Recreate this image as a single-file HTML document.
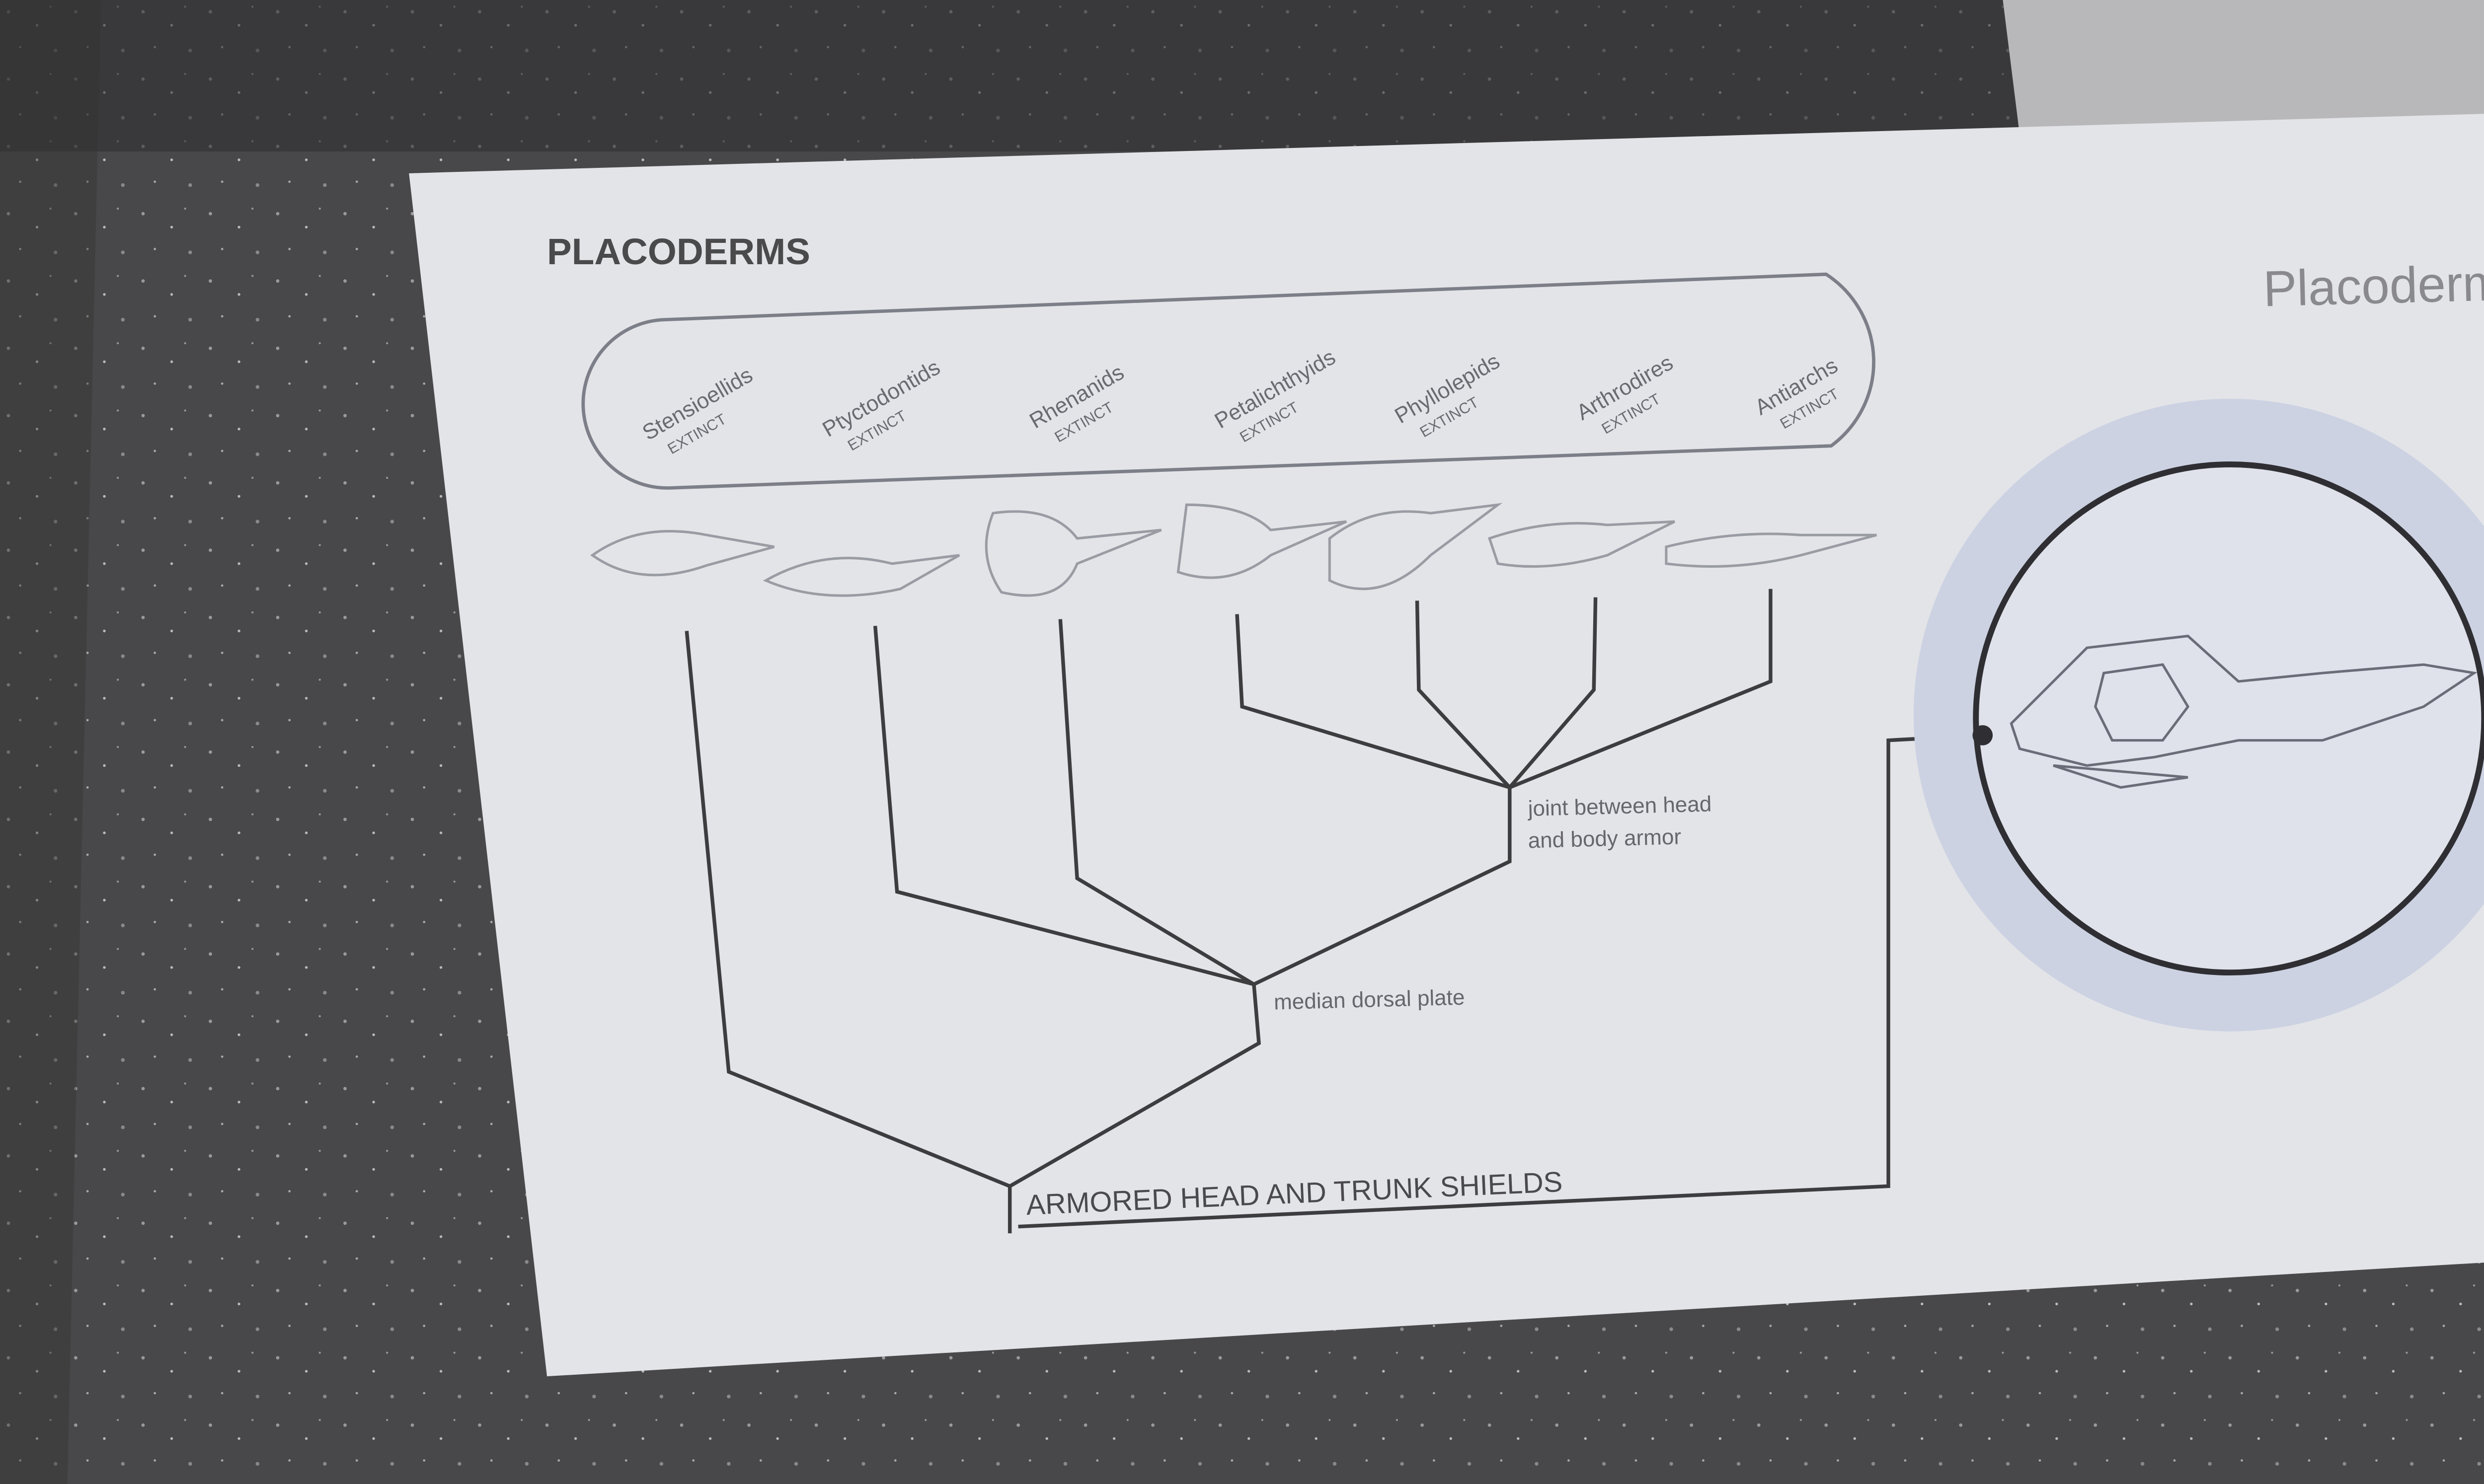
<!DOCTYPE html>
<html><head><meta charset="utf-8"><meta name="viewport" content="width=5312,initial-scale=1"><style>
html,body{margin:0;padding:0;width:5312px;height:2988px;overflow:hidden;background:#454547;position:relative}
svg{position:absolute;left:0;top:0;width:5312px;height:2988px;display:block;overflow:hidden}
text{font-family:"Liberation Sans",sans-serif}
</style></head><body>
<svg viewBox="0 0 1568 882" preserveAspectRatio="none" xmlns="http://www.w3.org/2000/svg">
<defs>
<pattern id="sp" width="40" height="40" patternUnits="userSpaceOnUse">
<rect width="40" height="40" fill="#48484a"/>
<circle cx="5" cy="7" r="1" fill="#9a9a9c"/><circle cx="22" cy="15" r="0.8" fill="#bbb"/>
<circle cx="33" cy="30" r="1.1" fill="#8a8a8c"/><circle cx="12" cy="28" r="0.7" fill="#aaa"/>
<circle cx="30" cy="4" r="0.6" fill="#999"/>
</pattern>
</defs>
<rect width="1568" height="882" fill="url(#sp)"/>
<rect x="0" y="0" width="1200" height="90" fill="#2e2e30" opacity="0.55"/>
<polygon points="1190,0 1568,0 1568,65 1200,80" fill="#b8b8ba"/>
<polygon points="0,0 60,0 40,882 0,882" fill="#333" opacity="0.4"/>
<polygon points="243,103 1568,65 1568,745 325,818" fill="#e3e4e8"/>
<text x="325" y="157" font-size="22" font-weight="bold" fill="#4a4a4c">PLACODERMS</text>
<text x="1345" y="182" font-size="30" fill="#8a8a8e" transform="rotate(-1.5 1345 182)">Placoderms rep</text>
<text x="1548" y="245" font-size="24" fill="#999">s</text>
<text x="1548" y="285" font-size="24" fill="#999">a</text>
<text x="1548" y="320" font-size="24" fill="#999">p</text>
<text x="1548" y="355" font-size="24" fill="#999">g</text>
<circle cx="1546" cy="423" r="5" fill="#555"/>
<path d="M395,190 L1085,163 A62,62 0 0 1 1088,265 L398,290 A50,50 0 0 1 395,190 Z" fill="none" stroke="#7c7f88" stroke-width="2"/>
<g fill="#6a6a70" font-size="13">
<g transform="translate(385,262) rotate(-30)"><text>Stensioellids</text><text x="8" y="14" font-size="9">EXTINCT</text></g>
<g transform="translate(492,260) rotate(-30)"><text>Ptyctodontids</text><text x="8" y="14" font-size="9">EXTINCT</text></g>
<g transform="translate(615,255) rotate(-30)"><text>Rhenanids</text><text x="8" y="14" font-size="9">EXTINCT</text></g>
<g transform="translate(725,255) rotate(-30)"><text>Petalichthyids</text><text x="8" y="14" font-size="9">EXTINCT</text></g>
<g transform="translate(832,252) rotate(-30)"><text>Phyllolepids</text><text x="8" y="14" font-size="9">EXTINCT</text></g>
<g transform="translate(940,250) rotate(-30)"><text>Arthrodires</text><text x="8" y="14" font-size="9">EXTINCT</text></g>
<g transform="translate(1046,247) rotate(-30)"><text>Antiarchs</text><text x="8" y="14" font-size="9">EXTINCT</text></g>
</g>
<g fill="none" stroke="#9a9ca4" stroke-width="1.5">
<path d="M352,330 Q380,310 420,318 L460,325 L420,336 Q380,350 352,330 Z"/>
<path d="M455,345 Q490,325 530,335 L570,330 L535,350 Q490,360 455,345 Z"/>
<path d="M590,305 Q625,300 640,320 L690,315 L640,335 Q630,360 595,352 Q580,330 590,305 Z"/>
<path d="M705,300 Q740,300 755,315 L800,310 L755,330 Q730,350 700,340 Z"/>
<path d="M790,320 Q815,300 850,305 L890,300 L850,330 Q820,360 790,345 Z"/>
<path d="M885,320 Q920,308 955,312 L995,310 L955,330 Q920,340 890,335 Z"/>
<path d="M990,325 Q1030,315 1070,318 L1115,318 L1070,330 Q1030,340 990,335 Z"/>
</g>
<g fill="none" stroke="#3d3d40" stroke-width="2.2">
<polyline points="408,375 433,637 600,705"/>
<polyline points="600,705 600,733"/>
<polyline points="520,372 533,530 745,585"/>
<polyline points="630,368 640,522 745,585"/>
<polyline points="745,585 748,620 600,705"/>
<polyline points="735,365 738,420 897,468"/>
<polyline points="842,357 843,410 897,468"/>
<polyline points="948,355 947,410 897,468"/>
<polyline points="1052,350 1052,405 897,468"/>
<polyline points="897,468 897,512 745,585"/>
<polyline points="605,729 1122,705 1122,440 1178,437"/>
</g>
<text x="908" y="485" font-size="13" fill="#66666c" transform="rotate(-1.5 908 485)">joint between head</text>
<text x="908" y="504" font-size="13" fill="#66666c" transform="rotate(-1.5 908 504)">and body armor</text>
<text x="757" y="600" font-size="13" fill="#66666c" transform="rotate(-1.5 757 600)">median dorsal plate</text>
<text x="610" y="722" font-size="17" fill="#4a4a4e" transform="rotate(-2.5 610 722)">ARMORED HEAD AND TRUNK SHIELDS</text>
<circle cx="1325" cy="425" r="188" fill="#ccd2e2"/>
<circle cx="1325" cy="427" r="151" fill="#dfe2ea" stroke="#2f2f33" stroke-width="3.5"/>
<circle cx="1178" cy="437" r="6" fill="#2f2f33"/>
<g fill="none" stroke="#6a6d78" stroke-width="1.5">
<path d="M1195,430 L1240,385 L1300,378 L1330,405 L1380,400 L1440,395 L1470,400 L1440,420 L1380,440 L1330,440 L1280,450 L1240,455 L1200,445 Z"/>
<path d="M1250,400 L1285,395 L1300,420 L1285,440 L1255,440 L1245,420 Z"/>
<path d="M1220,455 L1300,462 L1260,468 Z"/>
</g>
</svg>
</body></html>
